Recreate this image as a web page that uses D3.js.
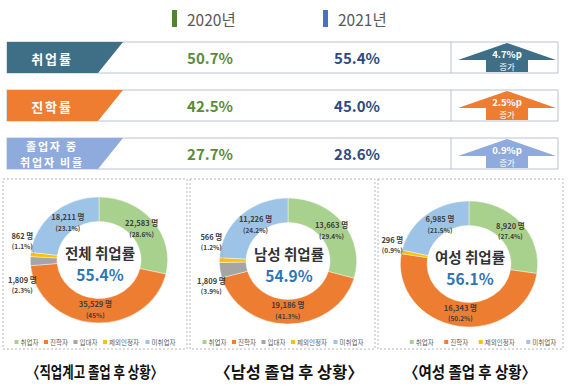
<!DOCTYPE html>
<html><head><meta charset="utf-8">
<script src="https://cdn.jsdelivr.net/npm/d3@7"></script>
<style>
html,body{margin:0;padding:0;background:#fff;}
svg{display:block;font-family:"Noto Sans CJK KR","Noto Sans",sans-serif;}
</style></head>
<body><svg id="c" width="570" height="388"></svg>
<script>
// ---------- DATA ----------
const years = ["2020년", "2021년"];
const rowLabels = [["취업률"], ["진학률"], ["졸업자 중", "취업자 비율"]];
const rate2020 = [50.7, 42.5, 27.7];
const rate2021 = [55.4, 45.0, 28.6];

const categories = ["취업자", "진학자", "입대자", "제외인정자", "미취업자"];
const panelTitles = ["〈직업계고 졸업 후 상황〉", "〈남성 졸업 후 상황〉", "〈여성 졸업 후 상황〉"];
const centerTitles = ["전체 취업률", "남성 취업률", "여성 취업률"];
const centerRates = ["55.4%", "54.9%", "56.1%"];
const totalCounts = [22583, 35529, 1809, 862, 18211];
const totalPct    = ["28.6%", "45%", "2.3%", "1.1%", "23.1%"];
const maleCounts  = [13663, 19186, 1809, 566, 11226];
const malePct     = ["29.4%", "41.3%", "3.9%", "1.2%", "24.2%"];
const femaleCounts = [8920, 16343, 0, 296, 6985];
const femalePct    = ["27.4%", "50.2%", "", "0.9%", "21.5%"];

// ---------- STYLE ----------
const yearColors = ["#548235", "#4472C4"];
const valueColors = ["#5B8C3A", "#2F4A82"];
const rowColors = ["#3F6F86", "#EE7D32", "#8FAADC"];
const sliceColors = ["#A9D18E", "#ED7D31", "#A5A5A5", "#FFC000", "#9DC3E6"];

const svg = d3.select("#c");

// top legend
const legX = [172, 323];
years.forEach((y, i) => {
  svg.append("rect").attr("x", legX[i]).attr("y", 10).attr("width", 5).attr("height", 17).attr("fill", yearColors[i]);
  svg.append("text").attr("x", legX[i] + 15).attr("y", 19).attr("dominant-baseline", "central")
    .attr("font-size", 15.5).attr("fill", "#595959").text(y);
});

// rows
const rowTop = [42, 90, 138], rowH = 31;
const boxL = 7, boxR = 558, divX = 451;
const xVal = d3.scalePoint().domain(years).range([210, 357]);
rowLabels.forEach((lab, i) => {
  const t = rowTop[i], b = t + rowH, m = t + rowH / 2;
  svg.append("rect").attr("x", boxL).attr("y", t).attr("width", boxR - boxL).attr("height", rowH)
    .attr("fill", "#fff").attr("stroke", "#B9C3D3").attr("stroke-width", 1);
  svg.append("line").attr("x1", divX).attr("x2", divX).attr("y1", t).attr("y2", b).attr("stroke", "#B9C3D3");
  svg.append("path").attr("d", `M${boxL},${t}H123L98,${b}H${boxL}Z`).attr("fill", rowColors[i]);
  const fsz = lab.length > 1 ? 11 : 13;
  const lt = svg.append("text").attr("text-anchor", "middle").attr("dominant-baseline", "central")
    .attr("font-size", fsz).attr("font-weight", "bold").attr("letter-spacing", 1.8).attr("fill", "#fff");
  lab.forEach((s, k) => {
    lt.append("tspan").attr("x", 52).attr("y", m + (k - (lab.length - 1) / 2) * 16).text(s);
  });
  [rate2020[i], rate2021[i]].forEach((v, k) => {
    svg.append("text").attr("x", xVal(years[k])).attr("y", m).attr("text-anchor", "middle")
      .attr("dominant-baseline", "central").attr("font-size", 15).attr("font-weight", "bold")
      .attr("fill", valueColors[k]).text(v.toFixed(1) + "%");
  });
  // arrow
  const ax = 507;
  svg.append("path").attr("d", `M${ax},${t + 1}L${ax + 49},${t + 18}H${ax + 21}V${b - 1}H${ax - 21}V${t + 18}H${ax - 49}Z`)
    .attr("fill", rowColors[i]);
  const diff = (rate2021[i] - rate2020[i]).toFixed(1);
  svg.append("text").attr("x", ax).attr("y", t + 11.5).attr("text-anchor", "middle").attr("dominant-baseline", "central")
    .attr("font-size", 9.5).attr("font-weight", "bold").attr("fill", "#fff").text(diff + "%p");
  svg.append("text").attr("x", ax).attr("y", t + 23.5).attr("text-anchor", "middle").attr("dominant-baseline", "central")
    .attr("font-size", 8.5).attr("fill", "#fff").text("증가");
});

// panels
const panels = [
  {counts: totalCounts, pct: totalPct, box: [3, 187], cx: 99, cy: 260, legCx: 96, titleCx: 95, titleW: 136},
  {counts: maleCounts, pct: malePct, box: [190, 375], cx: 288, cy: 261, legCx: 284, titleCx: 289, titleW: 149},
  {counts: femaleCounts, pct: femalePct, box: [378, 563], cx: 469, cy: 264, legCx: 484, titleCx: 470, titleW: 132}
];
const rOut = 63, rIn = 38.5, sx = 1.09;
const pie = d3.pie().sort(null).value(d => d.v);
const arc = d3.arc().innerRadius(rIn).outerRadius(rOut);
const fmt = d3.format(",");

panels.forEach((p, pi) => {
  svg.append("rect").attr("x", p.box[0]).attr("y", 179).attr("width", p.box[1] - p.box[0]).attr("height", 170)
    .attr("fill", "none").attr("stroke", "#A6A6A6").attr("stroke-width", 0.8).attr("stroke-dasharray", "2,2");
  const data = categories.map((c, i) => ({c, i, v: p.counts[i], pct: p.pct[i]}));
  const arcs = pie(data);
  const g = svg.append("g").attr("transform", `translate(${p.cx},${p.cy}) scale(${sx},1)`);
  g.selectAll("path").data(arcs.filter(a => a.data.v > 0)).join("path")
    .attr("d", arc).attr("fill", a => sliceColors[a.data.i]).attr("stroke", "#fff").attr("stroke-width", 0.4);
  // labels
  arcs.filter(a => a.data.v > 0).forEach(a => {
    const share = (a.endAngle - a.startAngle) / (2 * Math.PI);
    let x, y;
    if (share > 0.05) {
      const mid = (a.startAngle + a.endAngle) / 2, r = 50;
      x = p.cx + sx * r * Math.sin(mid) + (a.data.i === 4 ? 5 : 0);
      y = p.cy - r * Math.cos(mid);
    } else {
      x = p.cx - sx * rOut - 8;
      y = p.cy + (a.data.i === 2 ? 25 : -19);
      if (a.data.i === 3) {
        const mid = (a.startAngle + a.endAngle) / 2;
        svg.append("line").attr("x1", x + 10).attr("y1", y + 4)
          .attr("x2", p.cx + sx * (rOut - 3) * Math.sin(mid)).attr("y2", p.cy - (rOut - 3) * Math.cos(mid))
          .attr("stroke", "#A6A6A6").attr("stroke-width", 0.6);
      }
    }
    svg.append("text").attr("x", x).attr("y", y - 6).attr("text-anchor", "middle").attr("dominant-baseline", "central")
      .attr("font-size", 7.5).attr("font-weight", "bold").attr("fill", "#404040").text(fmt(a.data.v) + " 명");
    svg.append("text").attr("x", x).attr("y", y + 5).attr("text-anchor", "middle").attr("dominant-baseline", "central")
      .attr("font-size", 6.5).attr("font-weight", "bold").attr("fill", "#404040").text("(" + a.data.pct + ")");
  });
  // center
  svg.append("text").attr("x", p.cx + 1).attr("y", p.cy - 8).attr("text-anchor", "middle").attr("dominant-baseline", "central")
    .attr("font-size", 14.5).attr("font-weight", "bold").attr("fill", "#333").text(centerTitles[pi]);
  svg.append("text").attr("x", p.cx + 1).attr("y", p.cy + 14).attr("text-anchor", "middle").attr("dominant-baseline", "central")
    .attr("font-size", 15.5).attr("font-weight", "bold").attr("fill", "#2E75B6").text(centerRates[pi]);
  // legend
  const items = data.filter(d => d.v > 0);
  const fs = 6.5, gap = pi === 2 ? 9 : 4;
  const widths = items.map(d => 6 + d.c.length * fs);
  const total = d3.sum(widths) + gap * (items.length - 1);
  let lx = p.legCx - total / 2;
  items.forEach((d, k) => {
    svg.append("rect").attr("x", lx).attr("y", 340).attr("width", 4).attr("height", 4).attr("fill", sliceColors[d.i]);
    svg.append("text").attr("x", lx + 6).attr("y", 342).attr("dominant-baseline", "central")
      .attr("font-size", fs).attr("fill", "#595959").text(d.c);
    lx += widths[k] + gap;
  });
  // title
  svg.append("text").attr("x", p.titleCx - p.titleW / 2).attr("y", 371).attr("dominant-baseline", "central")
    .attr("font-size", 16).attr("font-weight", "bold").attr("fill", "#111")
    .attr("textLength", p.titleW).attr("lengthAdjust", "spacingAndGlyphs").text(panelTitles[pi]);
});
</script>
</body></html>
